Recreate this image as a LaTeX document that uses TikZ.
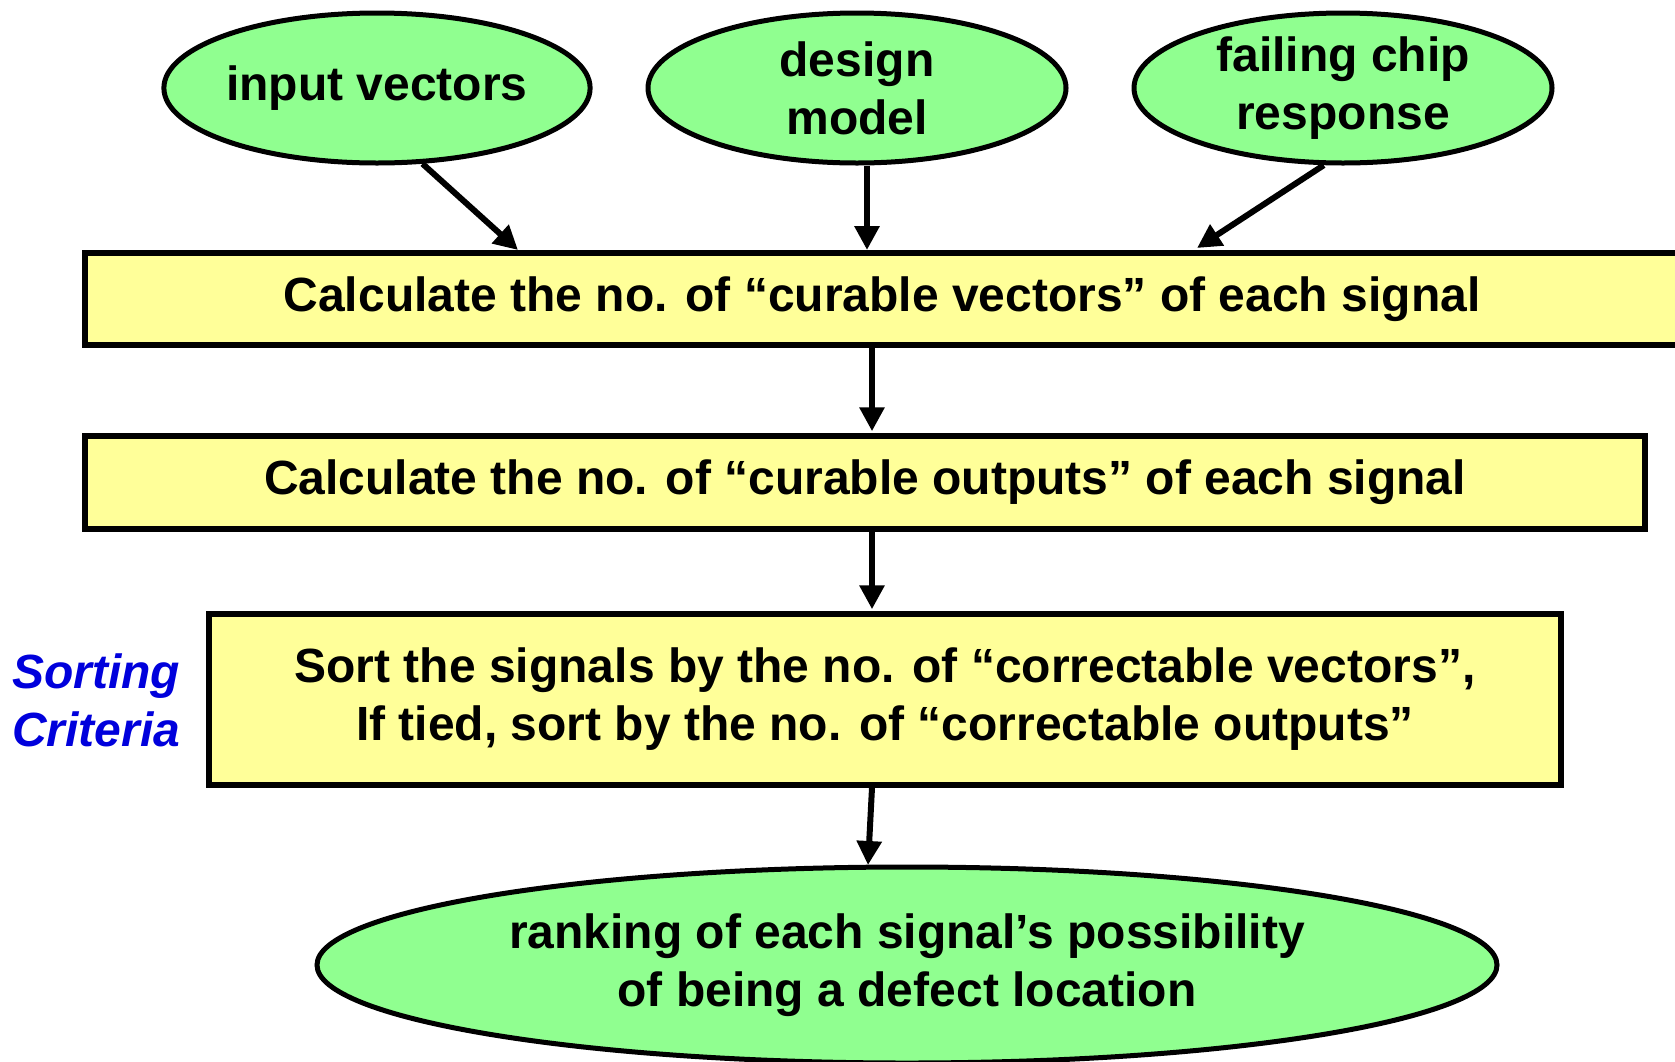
\documentclass[tikz,border=0pt]{standalone}
\usepackage{fontspec}
\setmainfont{Liberation Sans}
\usetikzlibrary{shapes.geometric,arrows.meta}
\definecolor{ovalgreen}{RGB}{144,255,144}
\definecolor{boxyellow}{RGB}{255,255,153}
\definecolor{critblue}{RGB}{0,0,220}
\tikzset{
  oval/.style={ellipse,draw=black,line width=5pt,fill=ovalgreen,inner sep=0pt,align=center,
    font=\fontsize{48}{58}\selectfont\bfseries},
  stepbox/.style={rectangle,draw=black,line width=5.5pt,fill=boxyellow,inner sep=0pt,align=center,
    font=\fontsize{48}{58}\selectfont\bfseries},
  arr/.style={line width=6pt,-{Triangle[length=24pt,width=24pt]}}
}
\begin{document}
\begin{tikzpicture}[x=1pt,y=1pt]
\useasboundingbox (0,0) rectangle (1675,-1061);
\fill[white] (0,0) rectangle (1675,-1061);
% top ovals
\node[oval,minimum width=418pt,minimum height=150pt] (e1) at (377,-88) {input vectors};
\node[oval,minimum width=418pt,minimum height=150pt] (e2) at (857,-88) {design\\model};
\node[oval,minimum width=418pt,minimum height=150pt] (e3) at (1343,-88) {failing chip\\response};
% boxes
\node[stepbox,minimum width=1594pt,minimum height=92pt] (b1) at (882,-299) {Calculate the no. of “curable vectors” of each signal};
\node[stepbox,minimum width=1560pt,minimum height=93pt] (b2) at (865,-482.5) {Calculate the no. of “curable outputs” of each signal};
\node[stepbox,minimum width=1352pt,minimum height=171pt] (b3) at (885,-699.5) {Sort the signals by the no. of “correctable vectors”,\\If tied, sort by the no. of “correctable outputs”};
% criteria label
\node[anchor=west,align=left,inner sep=0pt,text=critblue,font=\fontsize{48}{58}\selectfont\bfseries\itshape] (crit) at (12,-700) {Sorting\\Criteria};
% bottom oval
\node[oval,minimum width=1180pt,minimum height=196pt] (e4) at (907,-965) {ranking of each signal’s possibility\\of being a defect location};
% helper coordinates
\coordinate (t1) at (518,-250);
\coordinate (t2) at (867,-250);
\coordinate (t3) at (1197,-248);
\coordinate (x4) at (872,0);
\coordinate (t6) at (868,-865);
% connectors
\draw[arr] (e1.-59) -- (t1);
\draw[arr] (e2.south -| t2) -- (t2);
\draw[arr] (e3.-104) -- (t3);
\draw[arr] (b1.south -| x4) -- ([yshift=2pt]b2.north -| x4);
\draw[arr] (b2.south -| x4) -- ([yshift=2pt]b3.north -| x4);
\draw[arr] (b3.south -| x4) -- (t6);
\end{tikzpicture}
\end{document}
